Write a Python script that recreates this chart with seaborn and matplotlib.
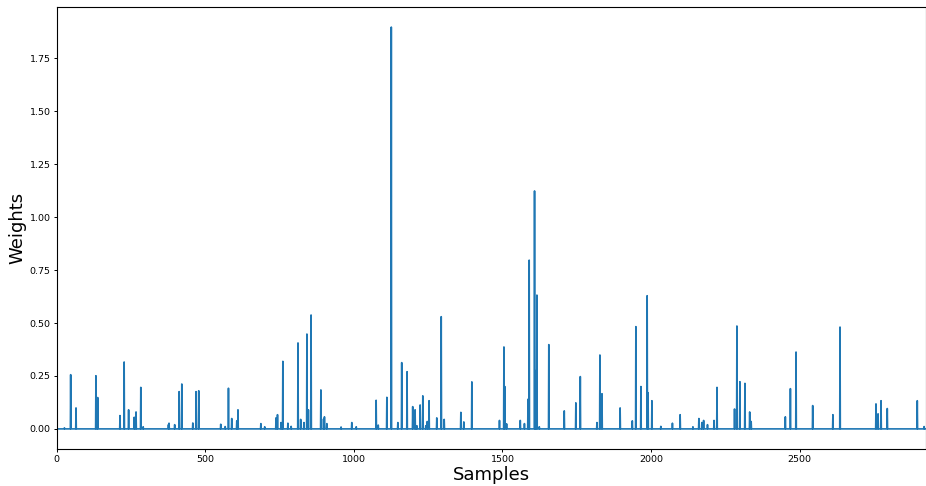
import numpy as np
import pandas as pd
import matplotlib
matplotlib.use("Agg")
import matplotlib.pyplot as plt
import seaborn as sns

n_samples = 2927

spike_idx = [0, 26, 47, 65, 132, 138, 213, 227, 242, 261, 267, 283, 291,
             376, 378, 397, 412, 421, 458, 469, 478, 552, 567, 578, 589, 606, 610,
             687, 700, 738, 743, 755, 761, 778, 789, 812, 821, 832, 842, 847, 856,
             889, 898, 901, 909, 957, 993, 1008, 1075, 1082, 1111, 1126, 1148, 1161,
             1179, 1198, 1206, 1212, 1223, 1232, 1242, 1247, 1253, 1279, 1294, 1304,
             1360, 1370, 1397, 1490, 1505, 1508, 1514, 1560, 1574, 1586, 1590, 1608,
             1611, 1616, 1624, 1656, 1708, 1747, 1762, 1818, 1828, 1835, 1896, 1937,
             1949, 1966, 1987, 1990, 2003, 2033, 2072, 2098, 2141, 2161, 2171, 2177,
             2190, 2212, 2222, 2281, 2289, 2299, 2316, 2332, 2337, 2452, 2469, 2488,
             2544, 2612, 2636, 2757, 2764, 2774, 2795, 2896, 2919]
spike_val = [0.731, 0.005, 0.256, 0.099, 0.251, 0.148, 0.063, 0.316, 0.090, 0.055, 0.080, 0.196, 0.010,
             0.020, 0.027, 0.020, 0.176, 0.212, 0.028, 0.176, 0.180, 0.022, 0.011, 0.192, 0.049, 0.038, 0.090,
             0.025, 0.010, 0.052, 0.067, 0.030, 0.319, 0.027, 0.012, 0.406, 0.045, 0.030, 0.448, 0.090, 0.538,
             0.184, 0.047, 0.057, 0.025, 0.009, 0.030, 0.010, 0.135, 0.018, 0.149, 1.898, 0.030, 0.313,
             0.270, 0.105, 0.090, 0.015, 0.113, 0.156, 0.015, 0.035, 0.133, 0.052, 0.530, 0.045,
             0.078, 0.033, 0.222, 0.040, 0.387, 0.200, 0.024, 0.040, 0.025, 0.140, 0.797, 1.124,
             0.275, 0.632, 0.010, 0.398, 0.085, 0.123, 0.247, 0.030, 0.349, 0.166, 0.099, 0.038,
             0.483, 0.200, 0.629, 0.171, 0.133, 0.012, 0.027, 0.067, 0.010, 0.049, 0.030, 0.040,
             0.020, 0.040, 0.196, 0.094, 0.486, 0.223, 0.215, 0.080, 0.035, 0.057, 0.190, 0.363,
             0.110, 0.067, 0.481, 0.118, 0.071, 0.133, 0.096, 0.133, 0.011]

weights = np.zeros(n_samples)
weights[spike_idx] = spike_val
df = pd.DataFrame({"Samples": np.arange(n_samples), "Weights": weights})

fig = plt.figure(figsize=(9.26, 4.86), dpi=100)
ax = fig.add_axes([56.7 / 926, 37 / 486, (926.2 - 56.7) / 926, (449 - 7) / 486])
sns.lineplot(data=df, x="Samples", y="Weights", ax=ax, color="#1f77b4", linewidth=1.2)
ax.set_xlim(0, n_samples - 1)
ax.set_ylim(-0.095, 1.993)
ax.set_xticks([0, 500, 1000, 1500, 2000, 2500])
ax.set_yticks([0.0, 0.25, 0.5, 0.75, 1.0, 1.25, 1.5, 1.75])
ax.set_yticklabels(["0.00", "0.25", "0.50", "0.75", "1.00", "1.25", "1.50", "1.75"])
ax.tick_params(labelsize=6.8, length=2.5, width=0.7, pad=2)
ax.set_xlabel("Samples", fontsize=13, labelpad=1)
ax.set_ylabel("Weights", fontsize=13, labelpad=2)
for s in ax.spines.values():
    s.set_linewidth(0.8)
fig.savefig("out.png", dpi=100)
